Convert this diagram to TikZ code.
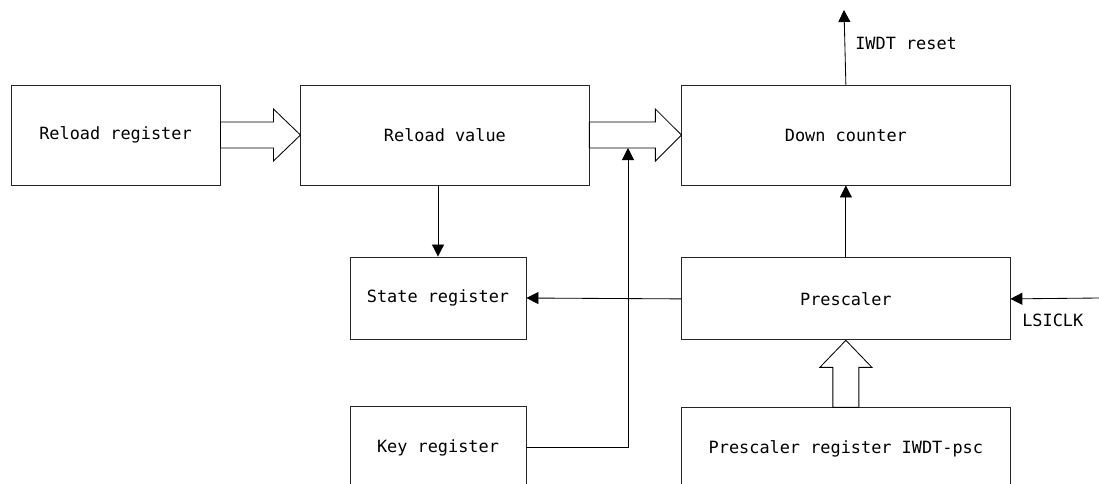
\documentclass[tikz,border=0pt]{standalone}
\usepackage{fontspec}
\newfontfamily\diagfont{DejaVu Sans Mono}
\usetikzlibrary{arrows.meta,positioning}

\begin{document}
\begin{tikzpicture}[
        x=0.025cm, y=-0.025cm,
        node distance=2cm,
        block/.style={rectangle, draw=black!85, line width=0.6pt, fill=white,
            minimum height=2.5cm, align=center, inner sep=0pt,
            font=\diagfont\fontsize{12}{14}\selectfont},
        lowblock/.style={block, minimum height=2.05cm},
        lbl/.style={inner sep=0pt, anchor=west, font=\diagfont\fontsize{12}{14}\selectfont},
        arr/.style={-{Triangle[length=0.3cm, width=0.3cm]}, line width=0.6pt, draw=black},
        fat/.style={line width=0.6pt, draw=black, fill=white}
    ]
    \clip (0,0) rectangle (1099,483);

    % upper row
    \node[block, minimum width=5.225cm] (reload) at (115.5,135) {Reload register};
    \node[block, minimum width=7.2cm, right=2cm of reload] (value) {Reload value};
    \node[block, minimum width=8.2cm, right=2.3cm of value] (counter) {Down counter};

    % lower rows
    \node[lowblock, minimum width=8.2cm, below=1.8cm of counter] (prescaler) {Prescaler};
    \node[lowblock, minimum width=8.2cm, below=1.675cm of prescaler] (prescreg) {Prescaler register IWDT-psc};
    \node[lowblock, minimum width=4.4cm] (state) at (438,298) {State register};
    \node[lowblock, minimum width=4.4cm, below=1.675cm of state] (key) {Key register};

    % hollow arrows
    \draw[fat] (reload.east) ++(0,-13) -- ++(53,0) -- ++(0,-13) -- (value.west)
        -- ++(-27,26) -- ++(0,-13) -- ++(-53,0) -- cycle;
    \draw[fat] (value.east) ++(0,-13) -- ++(66,0) -- ++(0,-13) -- (counter.west)
        -- ++(-26,26) -- ++(0,-13) -- ++(-66,0) -- cycle;
    \draw[fat] (prescreg.north) ++(-13,0) -- ++(0,-40) -- ++(-13,0) -- (prescaler.south)
        -- ++(26,27) -- ++(-13,0) -- ++(0,40) -- cycle;

    % signals
    \coordinate (keytip) at (628,148);
    \coordinate (resettip) at (844,10);
    \coordinate (clkin) at (1099,298);
    \draw[arr] (value.south -| state.north) -- (state.north);
    \draw[arr] (prescaler.west) -- (state.east);
    \draw[arr] (prescaler.north) -- (counter.south);
    \draw[arr] (key.east) -| (keytip);
    \draw[arr] (counter.north) -- (resettip);
    \draw[arr] (clkin) -- (prescaler.east);

    \node[lbl] (reset) at (855,43) {IWDT reset};
    \node[lbl] (lsiclk) at (1022,320) {LSICLK};
\end{tikzpicture}
\end{document}
